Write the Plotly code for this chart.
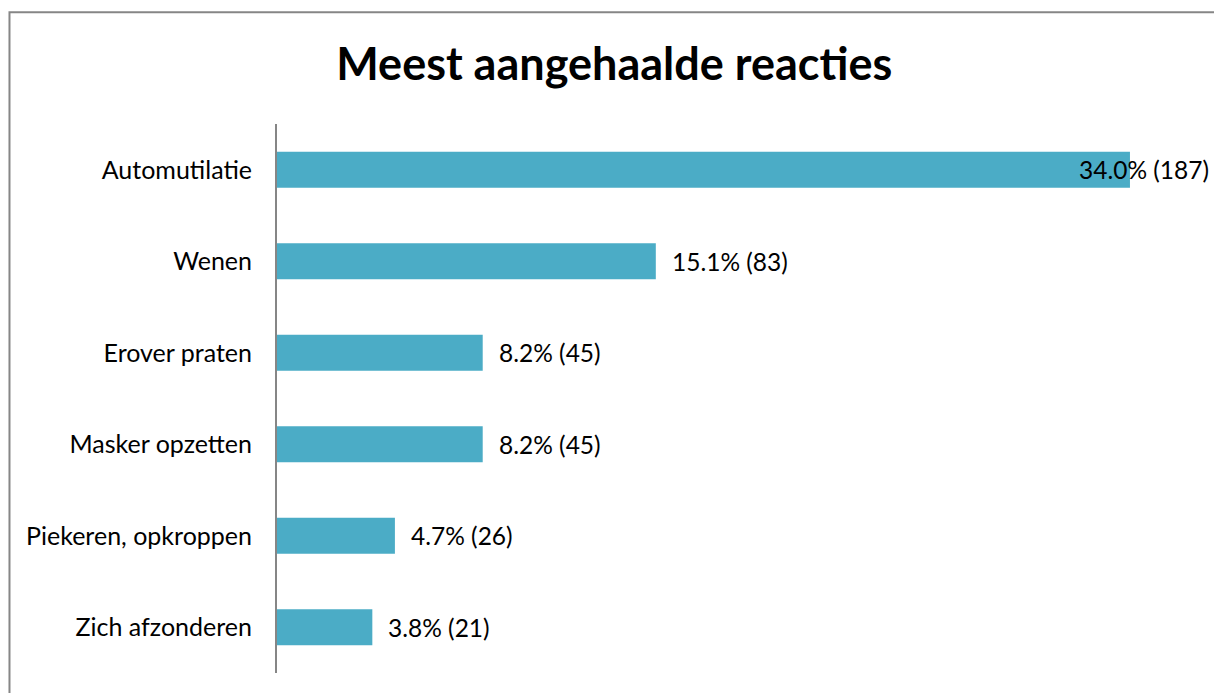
import plotly.graph_objects as go

categories = ["Automutilatie", "Wenen", "Erover praten", "Masker opzetten",
              "Piekeren, opkroppen", "Zich afzonderen"]
percentages = [34.0, 15.1, 8.2, 8.2, 4.7, 3.8]
counts = [187, 83, 45, 45, 26, 21]

labels = [f"{p:.1f}% ({c})" for p, c in zip(percentages, counts)]

FONT = "Lato"
fig = go.Figure()
fig.add_trace(go.Bar(
    x=percentages, y=categories, orientation="h",
    marker=dict(color="#4BACC6", line=dict(width=0)),
    hoverinfo="skip",
))

x_max = 37.35
for p, cat, lab in zip(percentages, categories, labels):
    if p > 30:
        fig.add_annotation(x=x_max, y=cat, xref="x", yref="y", text=lab,
                           showarrow=False, xanchor="right", xshift=-3,
                           font=dict(family=FONT, size=24.5, color="#000"))
    else:
        fig.add_annotation(x=p, y=cat, xref="x", yref="y", text=lab,
                           showarrow=False, xanchor="left", xshift=14,
                           font=dict(family=FONT, size=24.5, color="#000"))

fig.add_shape(type="rect", xref="paper", yref="paper",
              x0=-0.2855, x1=1.2, y0=-0.2, y1=1.2035,
              line=dict(color="#868686", width=2), layer="below")

fig.update_layout(
    width=1214, height=693,
    margin=dict(l=277, r=0, t=124, b=20),
    plot_bgcolor="white", paper_bgcolor="white",
    title=dict(text="<b>Meest aangehaalde reacties</b>", x=0.506, xanchor="center",
               y=0.908, yanchor="middle",
               font=dict(family=FONT, size=45, color="#000")),
    bargap=0.606,
    showlegend=False,
    xaxis=dict(range=[0, x_max], visible=False),
    yaxis=dict(autorange="reversed", showline=True, linecolor="#868686", linewidth=2,
               ticks="", showgrid=False, ticklabelstandoff=18,
               tickfont=dict(family=FONT, size=25, color="#000")),
    font=dict(family=FONT),
)

fig.write_html("out.html")
